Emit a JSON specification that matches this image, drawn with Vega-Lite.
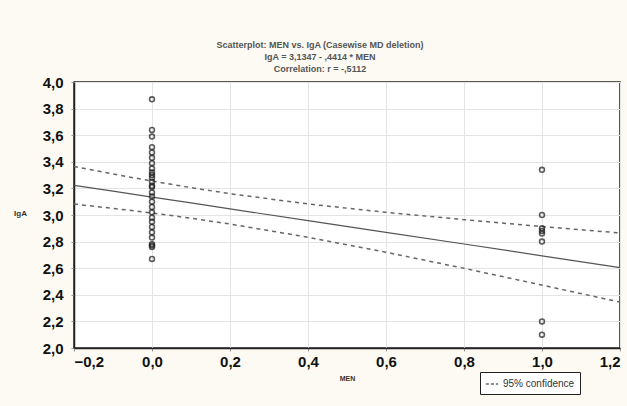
{
  "$schema": "https://vega.github.io/schema/vega-lite/v6.json",
  "width": 546,
  "height": 266,
  "autosize": {"type": "none"},
  "padding": {"left": 74, "top": 82, "right": 7, "bottom": 58},
  "background": "#fdfaf3",
  "title": {
    "text": ["Scatterplot: MEN vs. IgA (Casewise MD deletion)", "IgA = 3,1347 - ,4414 * MEN", "Correlation: r = -,5112"],
    "fontSize": 9,
    "font": "Liberation Sans",
    "fontWeight": "bold",
    "color": "#555555",
    "anchor": "middle",
    "dx": -27,
    "dy": 5,
    "offset": 6,
    "lineHeight": 12
  },
  "config": {
    "view": {"stroke": "#222222", "strokeWidth": 1.5, "fill": "#ffffff"},
    "axis": {
      "labelFont": "Liberation Sans",
      "labelFontWeight": "bold",
      "labelFontSize": 15,
      "labelColor": "#111111",
      "labelOverlap": false,
      "labelBound": false,
      "domainColor": "#222222",
      "domainWidth": 1.5,
      "gridColor": "#e4e4e4",
      "gridWidth": 1,
      "tickColor": "#999999",
      "tickSize": 3,
      "titleFont": "Liberation Sans",
      "titleFontWeight": "bold",
      "titleColor": "#333333"
    }
  },
  "datasets": {
    "pts": [
      {"men": 0, "iga": 3.87}, {"men": 0, "iga": 3.64}, {"men": 0, "iga": 3.59},
      {"men": 0, "iga": 3.51}, {"men": 0, "iga": 3.47}, {"men": 0, "iga": 3.43},
      {"men": 0, "iga": 3.39}, {"men": 0, "iga": 3.35}, {"men": 0, "iga": 3.32},
      {"men": 0, "iga": 3.30}, {"men": 0, "iga": 3.28}, {"men": 0, "iga": 3.25},
      {"men": 0, "iga": 3.22}, {"men": 0, "iga": 3.21}, {"men": 0, "iga": 3.17},
      {"men": 0, "iga": 3.14}, {"men": 0, "iga": 3.10}, {"men": 0, "iga": 3.06},
      {"men": 0, "iga": 3.02}, {"men": 0, "iga": 2.98}, {"men": 0, "iga": 2.95},
      {"men": 0, "iga": 2.91}, {"men": 0, "iga": 2.87}, {"men": 0, "iga": 2.83},
      {"men": 0, "iga": 2.78}, {"men": 0, "iga": 2.77}, {"men": 0, "iga": 2.76},
      {"men": 0, "iga": 2.67},
      {"men": 1.0, "iga": 3.34}, {"men": 1.0, "iga": 3.00}, {"men": 1.0, "iga": 2.90},
      {"men": 1.0, "iga": 2.88}, {"men": 1.0, "iga": 2.86}, {"men": 1.0, "iga": 2.80},
      {"men": 1.0, "iga": 2.20}, {"men": 1.0, "iga": 2.10}
    ],
    "fit": [
      {"men": -0.2, "fit": 3.223, "upper": 3.364, "lower": 3.082},
      {"men": -0.1, "fit": 3.179, "upper": 3.308, "lower": 3.050},
      {"men": 0.0, "fit": 3.135, "upper": 3.255, "lower": 3.015},
      {"men": 0.1, "fit": 3.091, "upper": 3.206, "lower": 2.976},
      {"men": 0.2, "fit": 3.046, "upper": 3.160, "lower": 2.932},
      {"men": 0.4, "fit": 2.958, "upper": 3.083, "lower": 2.833},
      {"men": 0.6, "fit": 2.870, "upper": 3.020, "lower": 2.720},
      {"men": 0.8, "fit": 2.782, "upper": 2.965, "lower": 2.599},
      {"men": 1.0, "fit": 2.693, "upper": 2.913, "lower": 2.473},
      {"men": 1.2, "fit": 2.605, "upper": 2.865, "lower": 2.345}
    ]
  },
  "layer": [
    {
      "data": {"name": "fit"},
      "mark": {"type": "line", "color": "#555555", "strokeWidth": 1.2},
      "encoding": {
        "x": {
          "field": "men", "type": "quantitative",
          "scale": {"domain": [-0.2, 1.2], "nice": false, "zero": false},
          "axis": {
            "values": [-0.2, 0, 0.2, 0.4, 0.6, 0.8, 1.0, 1.2],
            "labelExpr": "replace(format(datum.value, '.1f'), '.', ',')",
            "title": "MEN",
            "titleFontSize": 7,
            "titlePadding": 5,
            "labelPadding": 3
          }
        },
        "y": {
          "field": "fit", "type": "quantitative",
          "scale": {"domain": [2.0, 4.0], "nice": false, "zero": false},
          "axis": {
            "values": [2.0, 2.2, 2.4, 2.6, 2.8, 3.0, 3.2, 3.4, 3.6, 3.8, 4.0],
            "labelExpr": "replace(format(datum.value, '.1f'), '.', ',')",
            "title": "IgA",
            "titleFontSize": 8,
            "titleAngle": 0,
            "titleX": -54,
            "titleY": 135,
            "labelPadding": 8
          }
        }
      }
    },
    {
      "data": {"name": "fit"},
      "transform": [{"fold": ["upper", "lower"], "as": ["band", "val"]}],
      "mark": {"type": "line", "strokeDash": [4, 4], "strokeWidth": 1.5},
      "encoding": {
        "x": {"field": "men", "type": "quantitative",
          "axis": {
            "values": [-0.2, 0, 0.2, 0.4, 0.6, 0.8, 1.0, 1.2],
            "labelExpr": "replace(format(datum.value, '.1f'), '.', ',')",
            "title": "MEN",
            "titleFontSize": 7,
            "titlePadding": 5,
            "labelPadding": 3
          }},
        "y": {"field": "val", "type": "quantitative",
          "axis": {
            "values": [2.0, 2.2, 2.4, 2.6, 2.8, 3.0, 3.2, 3.4, 3.6, 3.8, 4.0],
            "labelExpr": "replace(format(datum.value, '.1f'), '.', ',')",
            "title": "IgA",
            "titleFontSize": 8,
            "titleAngle": 0,
            "titleX": -54,
            "titleY": 135,
            "labelPadding": 8
          }},
        "detail": {"field": "band"},
        "color": {
          "datum": "95% confidence",
          "scale": {"range": ["#666666"]},
          "legend": {
            "orient": "none",
            "legendX": 406,
            "legendY": 290,
            "title": null,
            "direction": "horizontal",
            "strokeColor": "#222222",
            "fillColor": "#ffffff",
            "padding": 5,
            "labelFont": "Liberation Sans",
            "labelFontSize": 10,
            "labelColor": "#333333",
            "symbolType": "stroke",
            "symbolSize": 150,
            "symbolStrokeWidth": 1.5,
            "symbolDash": [3, 2],
            "labelLimit": 200,
            "columnPadding": 40
          }
        }
      }
    },
    {
      "data": {"name": "pts"},
      "mark": {"type": "point", "shape": "circle", "filled": false, "color": "#1a1a1a", "size": 24, "strokeWidth": 1.6},
      "encoding": {
        "x": {"field": "men", "type": "quantitative",
          "axis": {
            "values": [-0.2, 0, 0.2, 0.4, 0.6, 0.8, 1.0, 1.2],
            "labelExpr": "replace(format(datum.value, '.1f'), '.', ',')",
            "title": "MEN",
            "titleFontSize": 7,
            "titlePadding": 5,
            "labelPadding": 3
          }},
        "y": {"field": "iga", "type": "quantitative",
          "axis": {
            "values": [2.0, 2.2, 2.4, 2.6, 2.8, 3.0, 3.2, 3.4, 3.6, 3.8, 4.0],
            "labelExpr": "replace(format(datum.value, '.1f'), '.', ',')",
            "title": "IgA",
            "titleFontSize": 8,
            "titleAngle": 0,
            "titleX": -54,
            "titleY": 135,
            "labelPadding": 8
          }}
      }
    }
  ]
}
